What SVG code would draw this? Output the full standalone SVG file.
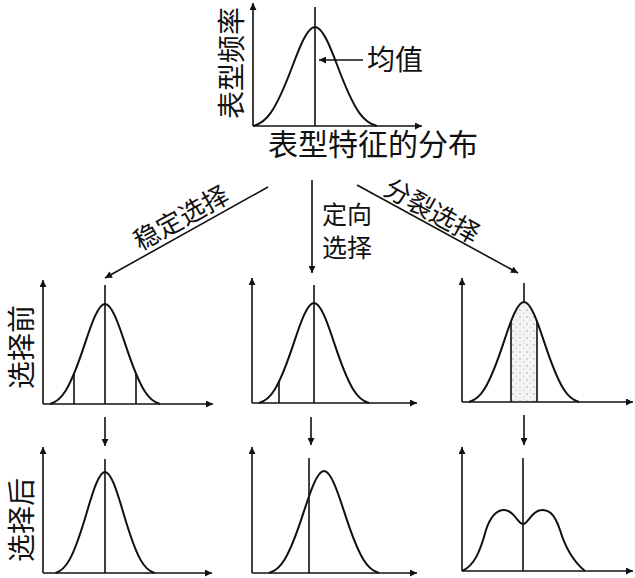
<svg xmlns="http://www.w3.org/2000/svg" width="635" height="578" viewBox="0 0 635 578">
<style>
.ax{stroke:#111;stroke-width:1.6;fill:none}
.cv{stroke:#111;stroke-width:2;fill:none}
.ln{stroke:#111;stroke-width:1.6}
.ar{stroke:#111;stroke-width:1.6;fill:none}
.tx{font-family:"Noto Sans CJK SC","Noto Sans CJK JP",sans-serif;fill:#111}
</style>
<defs>
<marker id="ah" viewBox="0 0 10 10" refX="10" refY="5" markerWidth="11" markerHeight="7" markerUnits="userSpaceOnUse" orient="auto"><path d="M0,0 L10,5 L0,10 z" fill="#111"/></marker>
<pattern id="dots" width="7" height="7" patternUnits="userSpaceOnUse"><rect width="7" height="7" fill="#f4f4f4"/><circle cx="2" cy="2" r="0.7" fill="#999"/><circle cx="5.5" cy="5" r="0.6" fill="#aaa"/></pattern>
<clipPath id="clipR"><path d="M469,402 C480,399 488,389.9 504,341.4 C510.7,321.1 517.3,302 524,302 C530.7,302 537.3,321.1 544,341.4 C560,389.9 568,399 579,402 Z"/></clipPath>
</defs>

<g id="chart-top">
<line class="ax" x1="253" y1="126" x2="253" y2="3" marker-end="url(#ah)"/>
<line class="ax" x1="253" y1="126" x2="422" y2="126" marker-end="url(#ah)"/>
<line class="ln" x1="315" y1="7" x2="315" y2="126"/>
<path class="cv" d="M253,126 C265.5,123 274.5,114 292.5,66 C300,46 307.5,27 315,27 C322.5,27 330,46 337.5,66 C355.5,114 364.5,123 377,126"/>
<text class="tx" font-size="28" text-anchor="middle" dominant-baseline="central" transform="translate(230,63) rotate(-90)">表型频率</text>
<text class="tx" x="268" y="155" font-size="30">表型特征的分布</text>
</g>

<g id="label-mean">
<line class="ar" x1="363" y1="60" x2="319" y2="60" marker-end="url(#ah)"/>
<text class="tx" x="367" y="70" font-size="28">均值</text>
</g>

<g id="label-before">
<text class="tx" font-size="28" text-anchor="middle" dominant-baseline="central" transform="translate(20,347) rotate(-90)">选择前</text>
</g>
<g id="label-after">
<text class="tx" font-size="28" text-anchor="middle" dominant-baseline="central" transform="translate(20,520) rotate(-90)">选择后</text>
</g>

<g id="connectors">
<line class="ar" x1="268" y1="187" x2="105" y2="278" marker-end="url(#ah)"/>
<line class="ar" x1="312" y1="180" x2="312" y2="273" marker-end="url(#ah)"/>
<line class="ar" x1="357" y1="185" x2="518" y2="273" marker-end="url(#ah)"/>
<line class="ar" x1="105" y1="417" x2="105" y2="446" marker-end="url(#ah)"/>
<line class="ar" x1="311" y1="417" x2="311" y2="445" marker-end="url(#ah)"/>
<line class="ar" x1="524" y1="415" x2="524" y2="445" marker-end="url(#ah)"/>
<text class="tx" font-size="26" text-anchor="middle" dominant-baseline="central" transform="translate(180,216) rotate(-29)">稳定选择</text>
<text class="tx" x="322" y="224" font-size="25">定向</text>
<text class="tx" x="322" y="257" font-size="25">选择</text>
<text class="tx" font-size="26" text-anchor="middle" dominant-baseline="central" transform="translate(433,209) rotate(29)">分裂选择</text>
</g>

<g id="chart-stabilizing-before">
<line class="ax" x1="43" y1="404" x2="43" y2="280" marker-end="url(#ah)"/>
<line class="ax" x1="43" y1="404" x2="213" y2="404" marker-end="url(#ah)"/>
<line class="ln" x1="105" y1="285" x2="105" y2="404"/>
<line class="ln" x1="74" y1="374" x2="74" y2="404"/>
<line class="ln" x1="136" y1="374" x2="136" y2="404"/>
<path class="cv" d="M50,404 C61,401 69,391.9 85,343.4 C91.7,323.1 98.3,304 105,304 C111.7,304 118.3,323.1 125,343.4 C141,391.9 149,401 160,404"/>
</g>

<g id="chart-directional-before">
<line class="ax" x1="252" y1="403" x2="252" y2="278" marker-end="url(#ah)"/>
<line class="ax" x1="252" y1="403" x2="417" y2="403" marker-end="url(#ah)"/>
<line class="ln" x1="314" y1="285" x2="314" y2="403"/>
<line class="ln" x1="279" y1="382" x2="279" y2="403"/>
<path class="cv" d="M259,403 C270,400 278,390.9 294,342.4 C300.7,322.1 307.3,303 314,303 C320.7,303 327.3,322.1 334,342.4 C350,390.9 358,400 369,403"/>
</g>

<g id="chart-disruptive-before">
<rect x="511" y="298" width="26" height="104" fill="url(#dots)" clip-path="url(#clipR)"/>
<line class="ax" x1="462" y1="402" x2="462" y2="278" marker-end="url(#ah)"/>
<line class="ax" x1="462" y1="402" x2="633" y2="402" marker-end="url(#ah)"/>
<line class="ln" x1="524" y1="283" x2="524" y2="302"/>
<line class="ln" x1="511" y1="321" x2="511" y2="402"/>
<line class="ln" x1="537" y1="321" x2="537" y2="402"/>
<path class="cv" d="M469,402 C480,399 488,389.9 504,341.4 C510.7,321.1 517.3,302 524,302 C530.7,302 537.3,321.1 544,341.4 C560,389.9 568,399 579,402"/>
</g>

<g id="chart-stabilizing-after">
<line class="ax" x1="43" y1="573" x2="43" y2="447" marker-end="url(#ah)"/>
<line class="ax" x1="43" y1="573" x2="212" y2="573" marker-end="url(#ah)"/>
<line class="ln" x1="105" y1="459" x2="105" y2="573"/>
<path class="cv" d="M55.5,573 C65.4,570 72.6,560.8 87,511.7 C93,491.3 99,472 105,472 C111,472 117,491.3 123,511.7 C137.4,560.8 144.6,570 154.5,573"/>
</g>

<g id="chart-directional-after">
<line class="ax" x1="252" y1="573" x2="252" y2="447" marker-end="url(#ah)"/>
<line class="ax" x1="252" y1="573" x2="417" y2="573" marker-end="url(#ah)"/>
<line class="ln" x1="309" y1="458" x2="309" y2="573"/>
<path class="cv" d="M269,573 C280,570 288,560.7 304,511.1 C310.7,490.5 317.3,471 324,471 C330.7,471 337.3,490.5 344,511.1 C360,560.7 368,570 379,573"/>
</g>

<g id="chart-disruptive-after">
<line class="ax" x1="462" y1="571" x2="462" y2="447" marker-end="url(#ah)"/>
<line class="ax" x1="462" y1="571" x2="633" y2="571" marker-end="url(#ah)"/>
<line class="ln" x1="523" y1="458" x2="523" y2="571"/>
<path class="cv" d="M462,571 C474,566 480,552 486,530 C492,512 500,510 504,510 C514,510 518,524 523,524 C528,524 532,510 542,510 C548,510 554,512 560,530 C566,550 574,562 585,571"/>
</g>
</svg>
